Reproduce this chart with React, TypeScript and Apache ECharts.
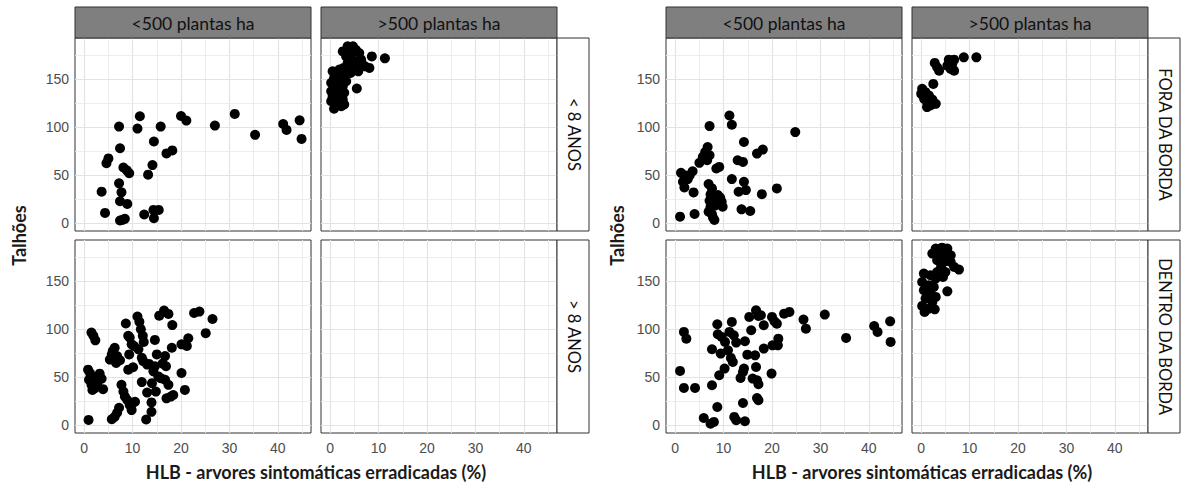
import React, { useEffect, useRef } from "react";
import * as echarts from "echarts";

// ---------- labels ----------
const colLabels = ["<500 plantas ha", ">500 plantas ha"];
const rowLabelsA = ["< 8 ANOS", "> 8 ANOS"];
const rowLabelsB = ["FORA DA BORDA", "DENTRO DA BORDA"];
const xTicks = [0, 10, 20, 30, 40];
const yTicks = [0, 50, 100, 150];
const xGridLines = [0, 5, 10, 15, 20, 25, 30, 35, 40, 45];
const yGridLines = [0, 25, 50, 75, 100, 125, 150, 175];
const xTitle = "HLB - arvores sintomáticas erradicadas (%)";
const yTitle = "Talhões";

// ---------- data: [HLB %, Talhões] ----------
// Chart A, "< 8 ANOS", "<500 plantas ha"
const ageLt8Low: number[][] = [
  [3.6, 32.9], [4.3, 10.8], [5.0, 67.4], [4.6, 62.5], [7.2, 100.5], [7.4, 78], [7.2, 41.5],
  [7.7, 32.2], [7.4, 22.9], [8.9, 20.1], [7.4, 2.9], [7.9, 3.6], [8.4, 4.6], [8.1, 58],
  [8.8, 55], [9.3, 52], [11.0, 98.4], [11.5, 111.2], [12.4, 9.1], [13.2, 50.5], [14.1, 60.5],
  [14.4, 85], [14.4, 5.3], [14.3, 13.9], [15.4, 13.9], [15.8, 100.5], [17.0, 72.6], [18.2, 75.7],
  [20.0, 111.5], [21.1, 106.7], [27.0, 101.5], [31.1, 113.6], [35.3, 91.9], [41.1, 103.2],
  [41.8, 97], [44.5, 107], [44.9, 87.7],
];
// Chart A, "< 8 ANOS", ">500 plantas ha"
const ageLt8High: number[][] = [
  [11.3, 171.4], [8.6, 173.4], [5.5, 140], [8.1, 161.4],
  [2.6, 178.6], [3.6, 183.8], [4.7, 183.8], [5.3, 180.3], [6.0, 176.9], [3.3, 173.4], [4.3, 175.2],
  [6.4, 170], [5.0, 168.3], [3.6, 166.6], [7.2, 163.1], [2.8, 161.4], [5.3, 159.7], [4.2, 156.2],
  [2.3, 159.7], [6.5, 166.6], [5.8, 157.9], [4.7, 162.4],
  [0.5, 157.9], [1.6, 154.5], [0.8, 151], [2.3, 149.3], [0.2, 145.9], [1.2, 144.1], [2.6, 142.4],
  [0.2, 137.2], [1.6, 137.2], [2.9, 135.5], [0.5, 132.1], [1.9, 130.3], [2.6, 128.6], [0.2, 126.9],
  [1.2, 123.4], [2.3, 121.7], [0.8, 119], [2.9, 123.4], [3.3, 147.6], [2.9, 152.8], [1.9, 159.7],
];
// Chart A, "> 8 ANOS", "<500 plantas ha"
const ageGt8Low: number[][] = [
  [0.9, 5.6], [0.8, 57.8], [1.2, 54.3], [1.0, 47.3], [1.5, 96.4], [1.9, 92.9], [2.3, 88.3],
  [1.5, 42], [1.7, 36.8], [2.2, 49], [2.7, 43.8], [3.2, 53.6], [3.6, 48.4], [3.9, 37.5], [2.2, 38.6],
  [5.7, 6.3], [6.3, 8.8], [6.8, 13], [7.2, 18.2], [5.3, 68.3], [5.9, 77.1], [6.3, 80.6], [6.6, 64.8],
  [6.8, 71.9], [7.4, 67.6], [5.7, 73.6], [7.7, 42.1], [8.1, 35], [8.4, 29.8], [8.9, 26.3],
  [9.4, 21], [9.8, 15.8], [8.6, 105.8], [9.1, 92.9], [9.4, 91.1], [9.3, 73.6], [9.1, 57.8],
  [10.1, 60.3], [9.8, 84.1], [10.3, 82.4], [10.5, 24.5], [10.0, 22.8],
  [11.0, 112.9], [11.4, 107.6], [11.7, 99.9], [12.1, 92.9], [12.3, 86.6], [11.2, 78.9], [11.9, 70.1],
  [12.2, 66.6], [13.0, 63.1], [11.9, 44.9], [13.0, 34], [13.9, 23.8], [13.9, 14], [12.8, 6],
  [14.0, 43.8], [14.3, 56.1], [14.6, 61.3], [14.6, 88.7], [15.0, 73.6], [14.8, 35], [13.4, 63.8],
  [15.5, 113.9], [16.5, 119.2], [17.4, 115.7], [18.2, 104.1], [18.1, 80.6], [15.8, 49], [16.2, 64.1],
  [16.7, 71.9], [16.9, 61.3], [16.7, 47.3], [17.4, 42], [17.0, 28], [17.9, 29.8], [18.4, 31.5],
  [15.3, 50.8],
  [20.1, 54.3], [20.8, 36.8], [20.1, 84.1], [21.2, 82.4], [21.5, 90.4], [22.7, 116.7], [23.8, 118.1],
  [25.1, 95.7], [26.5, 110.4],
];
// Chart A, "> 8 ANOS", ">500 plantas ha" (no data)
const ageGt8High: number[][] = [];

// Chart B, "FORA DA BORDA", "<500 plantas ha"
const foraLow: number[][] = [
  [1.0, 6.9], [4.0, 9.7], [1.2, 52.4], [1.9, 50], [1.6, 43.1], [2.6, 45.9], [1.9, 37.2], [3.6, 54.1],
  [3.8, 32.1], [5.0, 62.8], [5.7, 69], [6.2, 74.1], [6.7, 79.3], [6.6, 65.5], [7.1, 70.7], [7.1, 101],
  [6.9, 40.7], [7.6, 36.2], [7.3, 30], [7.1, 23.4], [7.3, 17.2], [6.9, 12.1], [7.8, 5.9], [8.1, 3.4],
  [7.6, 9.3], [8.5, 56.9], [9.1, 58.6], [8.8, 29.3], [9.3, 26.6], [9.6, 22.4], [9.8, 17.2],
  [8.8, 22.4], [8.2, 18.3], [11.2, 112], [11.7, 102.4], [11.7, 45.9], [12.9, 65.5], [14.0, 63.8],
  [13.1, 32.8], [14.2, 43.1], [14.6, 34.5], [14.2, 84.5], [13.7, 14.5], [15.5, 12.8], [16.9, 72.4],
  [18.1, 76.6], [17.9, 30.3], [21.0, 36.2], [24.8, 94.8], [3.0, 50],
];
// Chart B, "FORA DA BORDA", ">500 plantas ha"
const foraHigh: number[][] = [
  [11.4, 172.4], [8.8, 172.4], [6.8, 170], [5.7, 170], [6.4, 165.5], [5.4, 163.8], [6.1, 160.3],
  [6.8, 158.6], [2.8, 166.6], [3.3, 162], [3.7, 158.6], [2.5, 144.8], [0.2, 139.7], [0.0, 134.5],
  [0.6, 129.3], [1.2, 125.9], [1.9, 122.4], [3.0, 124.1], [1.6, 132.8], [2.3, 128.6], [0.9, 136.2],
  [1.2, 120.7],
];
// Chart B, "DENTRO DA BORDA", "<500 plantas ha"
const dentroLow: number[][] = [
  [1.0, 56.5], [1.8, 97], [2.3, 90], [1.8, 38.8], [4.1, 38.8], [5.9, 7.6], [7.3, 1.7], [8.0, 3.5],
  [7.6, 41.6], [8.7, 19], [7.6, 79], [8.7, 105], [8.8, 94.6], [9.6, 91.8], [9.4, 74.5], [9.1, 52],
  [10.2, 58.9], [10.3, 86.6], [10.9, 77.9], [11.2, 97], [11.7, 107.4], [12.1, 93.5], [11.5, 70],
  [11.9, 65.8], [12.6, 85.9], [12.2, 8.7], [12.6, 5.2], [14.0, 23.2], [14.4, 4.2], [13.5, 49.2],
  [14.2, 58.9], [14.0, 55.4], [14.4, 87.3], [14.9, 73.4], [15.3, 112.6], [16.7, 119.5], [17.2, 113.6],
  [17.7, 114.3], [15.7, 98.7], [16.5, 72.7], [16.7, 60.6], [16.0, 48.5], [16.9, 46.8], [17.2, 42.6],
  [16.9, 28.4], [17.2, 26], [18.3, 103.9], [18.3, 79.7], [19.9, 53.7], [20.0, 112.6], [20.5, 108.1],
  [21.0, 105.6], [20.1, 83.1], [21.2, 83.1], [21.3, 90], [22.5, 116], [23.6, 117.8], [26.5, 109.8],
  [27.0, 100.4], [30.9, 115], [35.3, 90.8], [41.1, 103.2], [41.8, 97], [44.4, 108], [44.5, 86.6],
];
// Chart B, "DENTRO DA BORDA", ">500 plantas ha"
const dentroHigh: number[][] = [
  [3.0, 183.6], [4.3, 184.5], [5.4, 183.6], [2.3, 178.4], [3.7, 176.7], [5.0, 178.4], [6.1, 176.7],
  [3.3, 171.5], [4.7, 169.7], [6.1, 169.7], [6.8, 164.5], [7.8, 161.8], [4.1, 164.5], [5.0, 159.3],
  [4.5, 154.1], [5.4, 139.2],
  [0.55, 157.6], [1.9, 155.9], [3.0, 152.4], [0.2, 148.9], [1.6, 145.5], [2.6, 143.7], [0.55, 140.3],
  [1.9, 137.9], [3.0, 133.4], [0.9, 131.6], [2.3, 128.2], [0.2, 124], [1.6, 121.2], [2.8, 120.5],
  [0.7, 117.8], [3.3, 159.3],
];

// ---------- layout ----------
const X_MIN = -1.9;
const X_MAX = 46.85;
const Y_MIN = -8;
const Y_MAX = 192.5;
const PANEL_W = 236;
const PANEL_H = 193;
const COL_STEP = 246;
const ROW_TOPS = [38, 240];
const STRIP_TOP = 7;
const STRIP_W = 32;

const LABEL_FONT = "Lato, 'Open Sans', sans-serif";
const TICK_FONT = "'Liberation Sans', Arial, sans-serif";

const chartDefs = [
  {
    left: 75,
    rowLabels: rowLabelsA,
    panels: [[ageLt8Low, ageLt8High], [ageGt8Low, ageGt8High]],
    yTitleX: 19,
    xTitleX: 316,
  },
  {
    left: 666,
    rowLabels: rowLabelsB,
    panels: [[foraLow, foraHigh], [dentroLow, dentroHigh]],
    yTitleX: 617,
    xTitleX: 922,
  },
];

function buildOption() {
  const grid: any[] = [];
  const xAxis: any[] = [];
  const yAxis: any[] = [];
  const series: any[] = [];
  const graphic: any[] = [];

  chartDefs.forEach((def) => {
    for (let r = 0; r < 2; r++) {
      for (let c = 0; c < 2; c++) {
        const idx = grid.length;
        const left = def.left + c * COL_STEP;
        const top = ROW_TOPS[r];
        grid.push({
          left,
          top,
          width: PANEL_W,
          height: PANEL_H,
          show: true,
          backgroundColor: "#ffffff",
          borderColor: "#333333",
          borderWidth: 1,
          containLabel: false,
        });
        const isBottom = r === 1;
        const isLeft = c === 0;
        xAxis.push({
          gridIndex: idx,
          type: "value",
          min: X_MIN,
          max: X_MAX,
          splitLine: { show: false },
          axisLine: { show: false },
          axisTick: {
            show: isBottom,
            length: 4,
            lineStyle: { color: "#333333", width: 1 },
            customValues: xTicks,
          },
          axisLabel: {
            show: isBottom,
            customValues: xTicks,
            color: "#4d4d4d",
            fontSize: 14,
            fontFamily: TICK_FONT,
            margin: 8,
          },
        });
        yAxis.push({
          gridIndex: idx,
          type: "value",
          min: Y_MIN,
          max: Y_MAX,
          splitLine: { show: false },
          axisLine: { show: false },
          axisTick: {
            show: isLeft,
            length: 4,
            lineStyle: { color: "#333333", width: 1 },
            customValues: yTicks,
          },
          axisLabel: {
            show: isLeft,
            customValues: yTicks,
            color: "#4d4d4d",
            fontSize: 14,
            fontFamily: TICK_FONT,
            margin: 6,
          },
        });
        // grid lines through the axes' own scales
        series.push({
          type: "scatter",
          xAxisIndex: idx,
          yAxisIndex: idx,
          data: [],
          silent: true,
          z: 1,
          markLine: {
            silent: true,
            symbol: ["none", "none"],
            z: 1,
            animation: false,
            label: { show: false },
            emphasis: { disabled: true },
            data: [
              ...xGridLines.map((v) => ({
                xAxis: v,
                lineStyle: { color: v % 10 === 0 ? "#e3e3e3" : "#ebebeb", width: v % 10 === 0 ? 1.2 : 0.9, type: "solid" },
              })),
              ...yGridLines.map((v) => ({
                yAxis: v,
                lineStyle: { color: v % 50 === 0 ? "#e3e3e3" : "#ebebeb", width: v % 50 === 0 ? 1.2 : 0.9, type: "solid" },
              })),
            ],
          },
        });
        const pts = def.panels[r][c];
        if (pts.length) {
          series.push({
            type: "scatter",
            xAxisIndex: idx,
            yAxisIndex: idx,
            data: pts,
            symbol: "circle",
            symbolSize: 10,
            itemStyle: { color: "#000000", opacity: 1 },
            silent: true,
            z: 3,
          });
        }
      }
    }

    // top strips
    for (let c = 0; c < 2; c++) {
      const left = def.left + c * COL_STEP;
      graphic.push({
        type: "rect",
        shape: { x: left, y: STRIP_TOP, width: PANEL_W, height: ROW_TOPS[0] - STRIP_TOP },
        style: { fill: "#7f7f7f", stroke: "#333333", lineWidth: 1 },
        z: 10,
      });
      graphic.push({
        type: "text",
        x: left + PANEL_W / 2,
        y: (STRIP_TOP + ROW_TOPS[0]) / 2 + 1,
        style: {
          text: colLabels[c],
          fill: "#111111",
          font: `17.5px ${LABEL_FONT}`,
          textAlign: "center",
          textVerticalAlign: "middle",
          align: "center",
          verticalAlign: "middle",
        },
        z: 11,
      });
    }
    // right strips
    const stripLeft = def.left + COL_STEP + PANEL_W;
    for (let r = 0; r < 2; r++) {
      graphic.push({
        type: "rect",
        shape: { x: stripLeft, y: ROW_TOPS[r], width: STRIP_W, height: PANEL_H },
        style: { fill: "#ffffff", stroke: "#333333", lineWidth: 1 },
        z: 10,
      });
      graphic.push({
        type: "text",
        x: stripLeft + STRIP_W / 2 + 1,
        y: ROW_TOPS[r] + PANEL_H / 2,
        rotation: -Math.PI / 2,
        style: {
          text: def.rowLabels[r],
          fill: "#111111",
          font: `16.5px ${LABEL_FONT}`,
          textAlign: "center",
          textVerticalAlign: "middle",
          align: "center",
          verticalAlign: "middle",
        },
        z: 11,
      });
    }
    // axis titles
    graphic.push({
      type: "text",
      x: def.xTitleX,
      y: 472,
      style: {
        text: xTitle,
        fill: "#1a1a1a",
        font: `bold 18px ${LABEL_FONT}`,
        textAlign: "center",
        textVerticalAlign: "middle",
        align: "center",
        verticalAlign: "middle",
      },
      z: 11,
    });
    graphic.push({
      type: "text",
      x: def.yTitleX,
      y: (ROW_TOPS[0] + ROW_TOPS[1] + PANEL_H) / 2,
      rotation: Math.PI / 2,
      style: {
        text: yTitle,
        fill: "#1a1a1a",
        font: `bold 18px ${LABEL_FONT}`,
        textAlign: "center",
        textVerticalAlign: "middle",
        align: "center",
        verticalAlign: "middle",
      },
      z: 11,
    });
  });

  return {
    animation: false,
    backgroundColor: "#ffffff",
    grid,
    xAxis,
    yAxis,
    series,
    graphic: { elements: graphic },
  };
}

export default function App() {
  const ref = useRef<HTMLDivElement>(null);
  useEffect(() => {
    if (!ref.current) return;
    const chart = echarts.init(ref.current, null, { renderer: "svg" });
    chart.setOption(buildOption() as any);
    return () => chart.dispose();
  }, []);
  return (
    <div
      ref={ref}
      style={{ width: 1181, height: 490, position: "absolute", left: 0, top: 0 }}
    />
  );
}
